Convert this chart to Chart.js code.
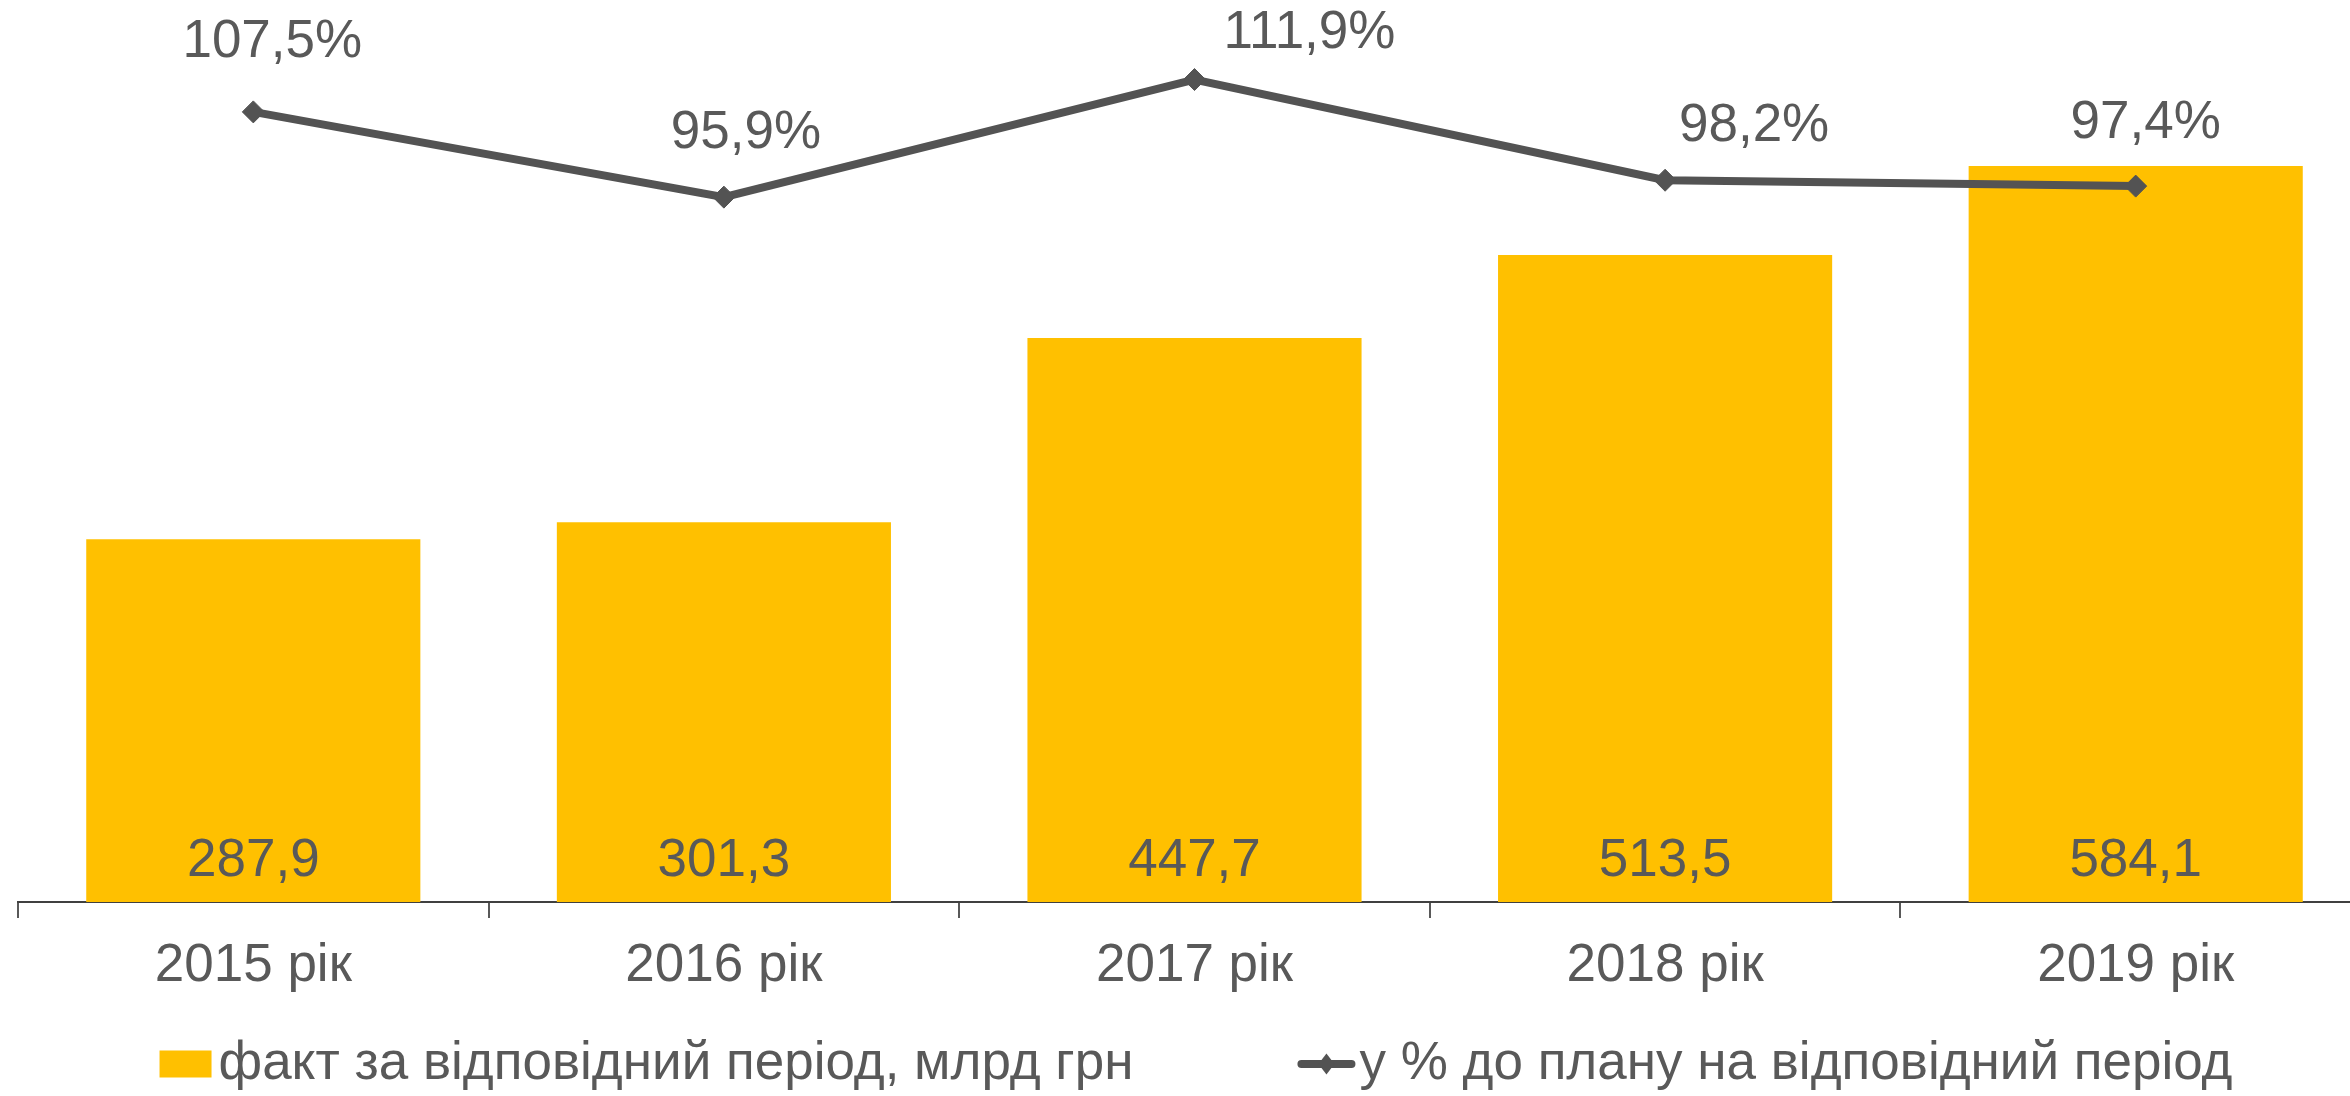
<!DOCTYPE html>
<html>
<head>
<meta charset="utf-8">
<script src="https://cdn.jsdelivr.net/npm/chart.js@4/dist/chart.umd.min.js"></script>
<style>
    html, body { margin: 0; padding: 0; background: #fff; overflow: hidden; }
    #wrap { width: 2392px; height: 1096px; }
</style>
</head>
<body>
<div id="wrap"><canvas id="out"></canvas></div>
<script>
const years = ["2015 рік", "2016 рік", "2017 рік", "2018 рік", "2019 рік"];
const factValues = [287.9, 301.3, 447.7, 513.5, 584.1];
const planPercent = [107.5, 95.9, 111.9, 98.2, 97.4];
const factLabel = "факт за відповідний період, млрд грн";
const percentLabel = "у % до плану на відповідний період";

// where each percent label sits relative to its point (px), as placed in the original
const percentLabelShift = [[19, -69], [22, -64], [115, -46], [89, -54], [10, -63]];

const textColor = "#595959";
const lineColor = "#535353";
const barColor = "#FFC000";
const fontFamily = "'Liberation Sans', Arial, sans-serif";
const fontSize = 53;

Chart.defaults.font.family = fontFamily;
Chart.defaults.color = textColor;

function formatNumber(v) {
    return v.toFixed(1).replace(".", ",");
}

const valueLabels = {
    id: "valueLabels",
    afterDatasetsDraw(chart) {
        const ctx = chart.ctx;
        ctx.save();
        ctx.font = fontSize + "px " + fontFamily;
        ctx.fillStyle = textColor;
        ctx.textAlign = "center";
        ctx.textBaseline = "middle";

        const base = chart.scales.y.getPixelForValue(0);
        chart.getDatasetMeta(1).data.forEach(function(bar, i) {
            ctx.fillText(formatNumber(factValues[i]), bar.x, base - 41);
        });

        chart.getDatasetMeta(0).data.forEach(function(pt, i) {
            const shift = percentLabelShift[i];
            ctx.fillText(formatNumber(planPercent[i]) + "%", pt.x + shift[0], pt.y + shift[1]);
        });
        ctx.restore();
    }
};

const bottomLegend = {
    id: "bottomLegend",
    afterDraw(chart) {
        const ctx = chart.ctx;
        ctx.save();
        ctx.font = fontSize + "px " + fontFamily;
        ctx.textBaseline = "middle";
        ctx.textAlign = "left";

        const boxW = 52, boxH = 27, boxGap = 7;
        const lineW = 58, lineGap = 4;
        const itemGap = 164;
        const w1 = ctx.measureText(factLabel).width;
        const w2 = ctx.measureText(percentLabel).width;
        const total = boxW + boxGap + w1 + itemGap + lineW + lineGap + w2;
        const y = 1064;
        let x = chart.width / 2 - total / 2;

        ctx.fillStyle = barColor;
        ctx.fillRect(x, y - boxH / 2, boxW, boxH);
        x += boxW + boxGap;
        ctx.fillStyle = textColor;
        ctx.fillText(factLabel, x, y);
        x += w1 + itemGap;

        ctx.strokeStyle = lineColor;
        ctx.lineWidth = 8;
        ctx.lineCap = "round";
        ctx.beginPath();
        ctx.moveTo(x + 4, y);
        ctx.lineTo(x + lineW - 4, y);
        ctx.stroke();
        ctx.fillStyle = lineColor;
        ctx.beginPath();
        ctx.moveTo(x + lineW / 2, y - 10.5);
        ctx.lineTo(x + lineW / 2 + 8, y);
        ctx.lineTo(x + lineW / 2, y + 10.5);
        ctx.lineTo(x + lineW / 2 - 8, y);
        ctx.closePath();
        ctx.fill();
        x += lineW + lineGap;

        ctx.fillStyle = textColor;
        ctx.fillText(percentLabel, x, y);
        ctx.restore();
    }
};

const chartConfig = {
    type: "bar",
    data: {
        labels: years,
        datasets: [{
                type: "line",
                label: percentLabel,
                data: planPercent,
                yAxisID: "y2",
                order: 0,
                borderColor: lineColor,
                borderWidth: 8,
                tension: 0,
                pointStyle: "rectRot",
                pointRadius: 11,
                pointBackgroundColor: lineColor,
                pointBorderColor: lineColor,
                pointBorderWidth: 1
            },
            {
                type: "bar",
                label: factLabel,
                data: factValues,
                yAxisID: "y",
                order: 1,
                backgroundColor: barColor,
                borderWidth: 0,
                barPercentage: 0.71,
                categoryPercentage: 1
            }
        ]
    },
    options: {
        responsive: true,
        maintainAspectRatio: false,
        animation: false,
        layout: {
            padding: { left: 18, right: 21, top: 20, bottom: 82 }
        },
        plugins: {
            legend: { display: false },
            tooltip: { enabled: false }
        },
        scales: {
            x: {
                offset: true,
                grid: {
                    offset: true,
                    drawOnChartArea: false,
                    drawTicks: true,
                    tickLength: 16,
                    color: "#595959",
                    lineWidth: 2
                },
                border: { display: true, color: "#404040", width: 2 },
                ticks: {
                    color: textColor,
                    padding: 21.5,
                    maxRotation: 0,
                    font: { size: fontSize, lineHeight: 1 }
                }
            },
            y: { display: false, min: 0, max: 700 },
            y2: { display: false, min: 0, max: 120, position: "right" }
        }
    },
    plugins: [valueLabels, bottomLegend]
};

window.chart = new Chart(document.getElementById("out").getContext("2d"), chartConfig);
</script>
</body>
</html>
